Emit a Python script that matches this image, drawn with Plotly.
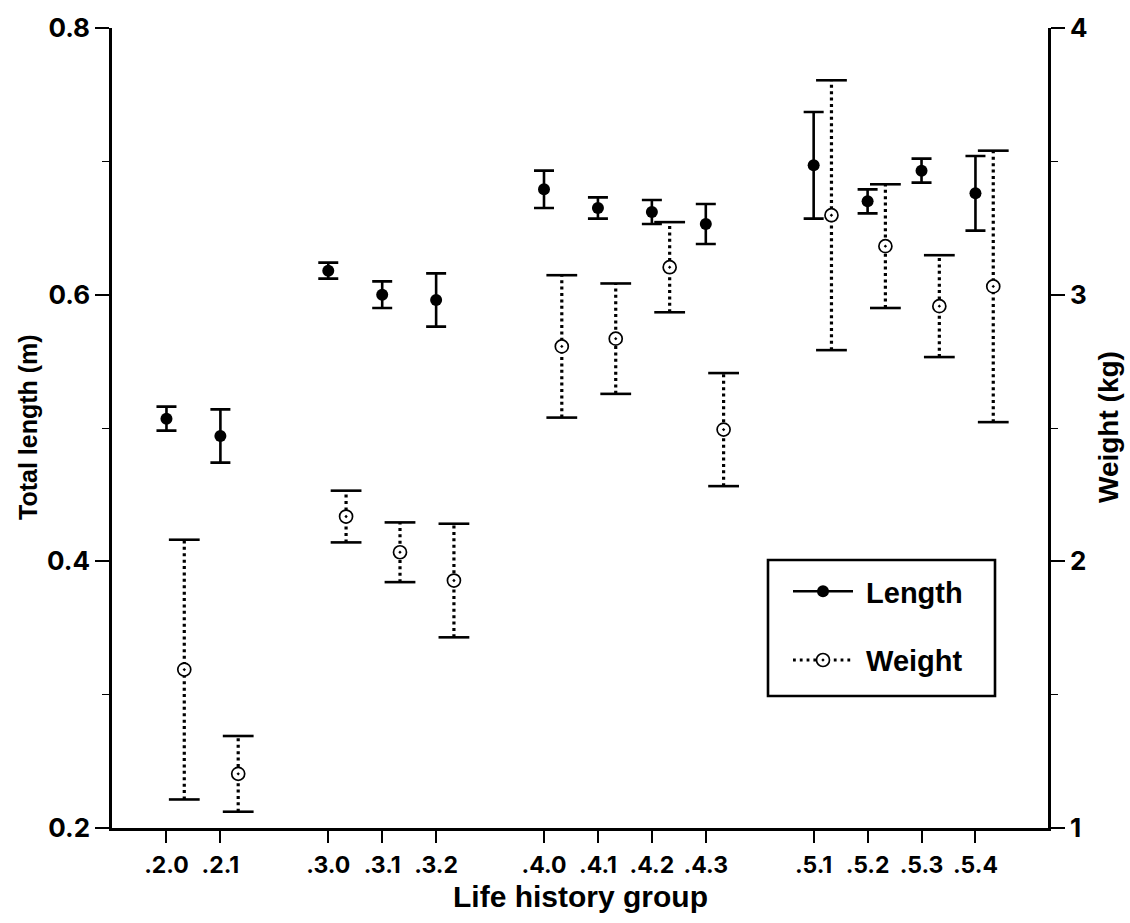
import plotly.graph_objects as go

# ---- data ----
groups = [".2.0", ".2.1", ".3.0", ".3.1", ".3.2", ".4.0", ".4.1", ".4.2", ".4.3",
          ".5.1", ".5.2", ".5.3", ".5.4"]
length_mean = [0.507, 0.494, 0.618, 0.600, 0.596, 0.679, 0.665, 0.662, 0.653,
               0.697, 0.670, 0.693, 0.676]
length_err = [0.009, 0.020, 0.006, 0.010, 0.020, 0.014, 0.008, 0.009, 0.015,
              0.040, 0.009, 0.009, 0.028]
weight_mean = [1.594, 1.203, 2.168, 2.034, 1.928, 2.806, 2.835, 3.103, 2.494,
               3.298, 3.182, 2.957, 3.031]
weight_err = [0.487, 0.142, 0.097, 0.112, 0.213, 0.267, 0.207, 0.169, 0.212,
              0.506, 0.232, 0.191, 0.509]
left_ticks = [0.2, 0.4, 0.6, 0.8]
right_ticks = [1, 2, 3, 4]

# ---- layout helpers (positions on the category axis, with gaps between groups) ----
positions = [0, 1, 3, 4, 5, 7, 8, 9, 10, 12, 13, 14, 15]
w_offset = 0.33
wx = [p + w_offset for p in positions]

FONT = "Liberation Sans, Arial, sans-serif"
TICKFONT = "Inter, Liberation Sans, Arial, sans-serif"

fig = go.Figure()

# Length: filled circles with solid error bars (left axis)
fig.add_trace(go.Scatter(
    x=positions, y=length_mean, mode="markers", yaxis="y", showlegend=False,
    marker=dict(symbol="circle", size=12, color="black"),
    error_y=dict(type="data", array=length_err, visible=True, color="black",
                 thickness=2.6, width=10),
))

# Weight: dotted vertical error lines (right axis)
seg_x, seg_y = [], []
for x, m, e in zip(wx, weight_mean, weight_err):
    seg_x += [x, x, None]
    seg_y += [m - e, m + e, None]
fig.add_trace(go.Scatter(
    x=seg_x, y=seg_y, mode="lines", yaxis="y2", showlegend=False,
    line=dict(color="black", width=3.2, dash="3px,3.4px"), hoverinfo="skip",
))
# Weight caps
cap_x, cap_y = [], []
for x, m, e in zip(wx, weight_mean, weight_err):
    cap_x += [x, x]
    cap_y += [m - e, m + e]
fig.add_trace(go.Scatter(
    x=cap_x, y=cap_y, mode="markers", yaxis="y2", showlegend=False,
    marker=dict(symbol="line-ew", size=22, line=dict(color="black", width=2.6)),
    hoverinfo="skip",
))
# Weight markers: open circle with centre dot
fig.add_trace(go.Scatter(
    x=wx, y=weight_mean, mode="markers", yaxis="y2", showlegend=False,
    marker=dict(symbol="circle-dot", size=13, color="white",
                line=dict(color="black", width=1.7)),
))

# Legend entries
fig.add_trace(go.Scatter(
    x=[None], y=[None], mode="lines+markers", name="\u00a0Length", legendgroup="a",
    line=dict(color="black", width=2.6),
    marker=dict(symbol="circle", size=12, color="black"),
))
fig.add_trace(go.Scatter(
    x=[None], y=[None], mode="lines+markers", name="\u00a0Weight", legendgroup="b",
    yaxis="y2",
    line=dict(color="black", width=2.8, dash="2.8px,4px"),
    marker=dict(symbol="circle-dot", size=13, color="white",
                line=dict(color="black", width=1.7)),
))

L, R, T, B = 112, 82, 22, 95
W, H = 1130, 923
pw, ph = W - L - R, H - T - B


def px_x(x):
    return (x - L) / pw


def px_y(y):
    return (H - B - y) / ph


fig.update_layout(
    width=W, height=H,
    margin=dict(l=L, r=R, t=T, b=B, pad=0),
    paper_bgcolor="white", plot_bgcolor="white",
    font=dict(family=FONT, color="black"),
    xaxis=dict(
        range=[-1.01, 16.345], tickmode="array", tickvals=positions, ticktext=groups,
        ticks="outside", ticklen=12, tickwidth=1.5, tickcolor="black",
        showline=True, linewidth=2.5, linecolor="black", mirror=False,
        showgrid=False, zeroline=False, ticklabelstandoff=3,
        tickfont=dict(family=TICKFONT, size=23, weight="bold", color="black"),
    ),
    yaxis=dict(
        range=[0.2, 0.8], tickmode="array", tickvals=left_ticks,
        ticktext=[f"{v:.1f}" for v in left_ticks],
        ticks="outside", ticklen=14, tickwidth=1.5, tickcolor="black",
        showline=True, linewidth=2.5, linecolor="black",
        showgrid=False, zeroline=False,
        tickfont=dict(family=TICKFONT, size=26, weight="bold", color="black"),
        minor=dict(tickmode="array", tickvals=[0.3, 0.5, 0.7], ticks="outside",
                   ticklen=7, tickwidth=1.2, tickcolor="black", showgrid=False),
    ),
    yaxis2=dict(
        range=[1, 4], overlaying="y", side="right", tickmode="array",
        tickvals=right_ticks, ticktext=[str(v) for v in right_ticks],
        ticks="outside", ticklen=14, tickwidth=1.5, tickcolor="black",
        showline=True, linewidth=2.5, linecolor="black",
        showgrid=False, zeroline=False,
        tickfont=dict(family=TICKFONT, size=26, weight="bold", color="black"),
        minor=dict(tickmode="array", tickvals=[1.5, 2.5, 3.5], ticks="outside",
                   ticklen=7, tickwidth=1.2, tickcolor="black", showgrid=False),
    ),
    legend=dict(
        x=px_x(788), y=px_y(564), xanchor="left", yanchor="top",
        bgcolor="rgba(0,0,0,0)", borderwidth=0, itemwidth=60,
        font=dict(family=FONT, size=29, weight="bold", color="black"),
        tracegroupgap=28,
    ),
    shapes=[dict(type="rect", xref="paper", yref="paper",
                 x0=px_x(768), x1=px_x(995), y0=px_y(695), y1=px_y(558),
                 line=dict(color="black", width=2.6), fillcolor="rgba(0,0,0,0)")],
    annotations=[
        dict(text="Total length (m)", xref="paper", yref="paper",
             x=px_x(28), y=px_y(424), textangle=-90, showarrow=False,
             xanchor="center", yanchor="middle",
             font=dict(family=FONT, size=25, weight="bold", color="black")),
        dict(text="Weight (kg)", xref="paper", yref="paper",
             x=px_x(1108), y=px_y(424), textangle=-90, showarrow=False,
             xanchor="center", yanchor="middle",
             font=dict(family=FONT, size=28, weight="bold", color="black")),
        dict(text="Life history group", xref="paper", yref="paper",
             x=px_x(580), y=px_y(897), showarrow=False,
             xanchor="center", yanchor="middle",
             font=dict(family=FONT, size=30, weight="bold", color="black")),
    ],
)

fig.write_html(
    "out.html",
    config={"displayModeBar": False},
    post_script="document.body.style.margin='0';document.body.style.overflow='hidden';",
)
